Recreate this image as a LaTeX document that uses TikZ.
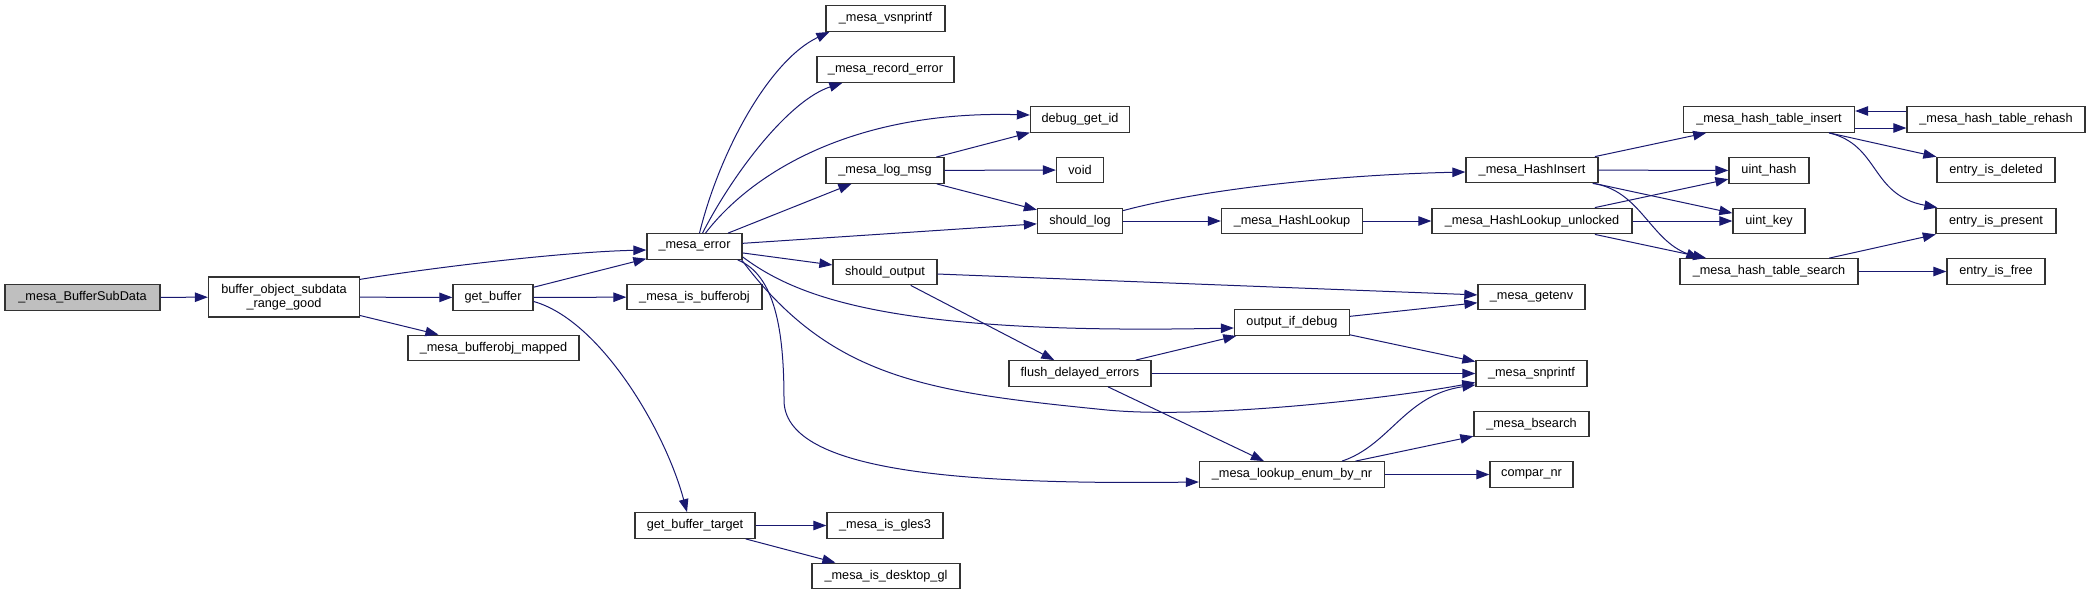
\documentclass[tikz,border=0pt]{standalone}
\usepackage{fontspec}
\setmainfont{Liberation Sans}
\usetikzlibrary{arrows.meta}
\definecolor{edgeblue}{HTML}{191970}
\definecolor{rootgray}{HTML}{BFBFBF}
\definecolor{boxline}{HTML}{333333}
\tikzset{
  box/.style={draw=boxline, line width=1.3pt, rectangle, inner sep=0pt, minimum height=25.5pt,
    font=\fontsize{12.7}{14.5}\selectfont, fill=white},
  edge/.style={draw=edgeblue, line width=1pt, -{Triangle[length=13pt,width=9.5pt]}}
}
\begin{document}
\begin{tikzpicture}[x=1pt,y=-1pt]
\useasboundingbox (0,0) rectangle (2091,595);
% rank 0-3
\node[box,fill=rootgray,minimum width=155] (bsd) at (82.5,297.5) {\_mesa\_BufferSubData};
\node[box,minimum width=151,minimum height=40,align=center] (rg) at (284,297) {buffer\_object\_subdata\\\_range\_good};
\node[box,minimum width=80] (gb) at (493,297.5) {get\_buffer};
\node[box,minimum width=171] (bm) at (493.5,348) {\_mesa\_bufferobj\_mapped};
\node[box,minimum width=95] (err) at (694.5,246.5) {\_mesa\_error};
\node[box,minimum width=135] (isb) at (694.5,297) {\_mesa\_is\_bufferobj};
\node[box,minimum width=120] (gbt) at (695,525.5) {get\_buffer\_target};
% rank 4
\node[box,minimum width=119] (vsn) at (885.5,18.5) {\_mesa\_vsnprintf};
\node[box,minimum width=137] (rec) at (885.5,69.5) {\_mesa\_record\_error};
\node[box,minimum width=118] (log) at (885,170.5) {\_mesa\_log\_msg};
\node[box,minimum width=104] (so) at (885,272) {should\_output};
\node[box,minimum width=116] (gles) at (885,525.5) {\_mesa\_is\_gles3};
\node[box,minimum width=148] (dgl) at (886,576) {\_mesa\_is\_desktop\_gl};
% rank 5
\node[box,minimum width=99] (dbg) at (1080,119.5) {debug\_get\_id};
\node[box,minimum width=47] (void) at (1080,170) {void};
\node[box,minimum width=85] (sl) at (1080,221) {should\_log};
\node[box,minimum width=142] (fde) at (1080,373.5) {flush\_delayed\_errors};
% rank 6
\node[box,minimum width=141] (hl) at (1292,221) {\_mesa\_HashLookup};
\node[box,minimum width=115] (oid) at (1292,322.5) {output\_if\_debug};
\node[box,minimum width=185] (len) at (1292,474.5) {\_mesa\_lookup\_enum\_by\_nr};
% rank 7
\node[box,minimum width=132] (hi) at (1532,170) {\_mesa\_HashInsert};
\node[box,minimum width=200] (hlu) at (1532,221) {\_mesa\_HashLookup\_unlocked};
\node[box,minimum width=107] (genv) at (1531.5,297) {\_mesa\_getenv};
\node[box,minimum width=111] (snp) at (1531.5,373.5) {\_mesa\_snprintf};
\node[box,minimum width=115] (bs) at (1531.5,424) {\_mesa\_bsearch};
\node[box,minimum width=83] (cnr) at (1531.5,474.5) {compar\_nr};
% rank 8
\node[box,minimum width=171] (hti) at (1769,119.5) {\_mesa\_hash\_table\_insert};
\node[box,minimum width=80] (uh) at (1769,170.5) {uint\_hash};
\node[box,minimum width=72] (uk) at (1769,221) {uint\_key};
\node[box,minimum width=178] (hts) at (1769,271.5) {\_mesa\_hash\_table\_search};
% rank 9
\node[box,minimum width=178] (rh) at (1996,119.5) {\_mesa\_hash\_table\_rehash};
\node[box,minimum width=118] (eid) at (1996,170) {entry\_is\_deleted};
\node[box,minimum width=120] (eip) at (1996,221) {entry\_is\_present};
\node[box,minimum width=98] (eif) at (1996,271.5) {entry\_is\_free};

% edges
\draw[edge] (bsd) -- (rg);
\draw[edge] ([yshift=-3pt]rg.north east) .. controls (430,268) and (560,252) .. ([yshift=-3.5pt]err.west);
\draw[edge] (rg) -- (gb);
\draw[edge] (rg) -- (bm);
\draw[edge] (gb) -- (err);
\draw[edge] (gb) -- (isb);
\draw[edge] ([yshift=-4pt]gb.east) .. controls (600,320) and (665,430) .. ([xshift=-8pt]gbt.north);
\draw[edge] ([xshift=5pt]err.north) .. controls (720,150) and (770,60) .. ([xshift=4pt]vsn.south west);
\draw[edge] ([xshift=8pt]err.north) .. controls (735,170) and (790,100) .. ([xshift=26pt]rec.south west);
\draw[edge] ([xshift=11pt]err.north) .. controls (750,175) and (850,110) .. ([yshift=4.5pt]dbg.west);
\draw[edge] (err) -- (log);
\draw[edge] (err) -- (sl);
\draw[edge] (err) -- (so);
\draw[edge] ([yshift=3pt]err.south east) .. controls (800,300) and (900,335) .. ([yshift=-5.5pt]oid.west);
\draw[edge] ([xshift=-1pt]err.south east) .. controls (831,379) and (927,392) .. (1107,410)
   .. controls (1200,419) and (1380,400) .. ([yshift=-9pt]snp.west);
\draw[edge] ([xshift=-5pt]err.south east) .. controls (775,275) and (784,330) .. (784,400)
   .. controls (784,470) and (950,485) .. ([yshift=-7.5pt]len.west);
\draw[edge] (log) -- (dbg);
\draw[edge] (log) -- (void);
\draw[edge] (log) -- (sl);
\draw[edge] (so) -- (genv);
\draw[edge] (so) -- (fde);
\draw[edge] ([yshift=-3pt]sl.north east) .. controls (1200,190) and (1330,175) .. ([yshift=-2pt]hi.west);
\draw[edge] (sl) -- (hl);
\draw[edge] (hl) -- (hlu);
\draw[edge] (fde) -- (oid);
\draw[edge] (fde) -- (snp);
\draw[edge] (fde) -- (len);
\draw[edge] (oid) -- (genv);
\draw[edge] (oid) -- (snp);
\draw[edge] ([xshift=50pt]len.north) .. controls (1390,445) and (1405,395) .. ([yshift=2pt]snp.south west);
\draw[edge] (len) -- (bs);
\draw[edge] (len) -- (cnr);
\draw[edge] (hi) -- (hti);
\draw[edge] (hi) -- (uh);
\draw[edge] (hi) -- (uk);
\draw[edge] ([xshift=-6pt]hi.south east) .. controls (1640,190) and (1650,240) .. ([xshift=20pt]hts.north west);
\draw[edge] (hlu) -- (uh);
\draw[edge] (hlu) -- (uk);
\draw[edge] (hlu) -- (hts);
\draw[edge] ([yshift=-8.5pt]hti.east) -- ([yshift=-8.5pt]rh.west);
\draw[edge] ([yshift=8.5pt]rh.west) -- ([yshift=8.5pt]hti.east);
\draw[edge] (hti) -- (eid);
\draw[edge] ([xshift=60pt]hti.south) .. controls (1880,145) and (1870,195) .. ([xshift=2pt]eip.north west);
\draw[edge] (hts) -- (eip);
\draw[edge] (hts) -- (eif);
\draw[edge] (gbt) -- (gles);
\draw[edge] (gbt) -- (dgl);
\end{tikzpicture}
\end{document}
